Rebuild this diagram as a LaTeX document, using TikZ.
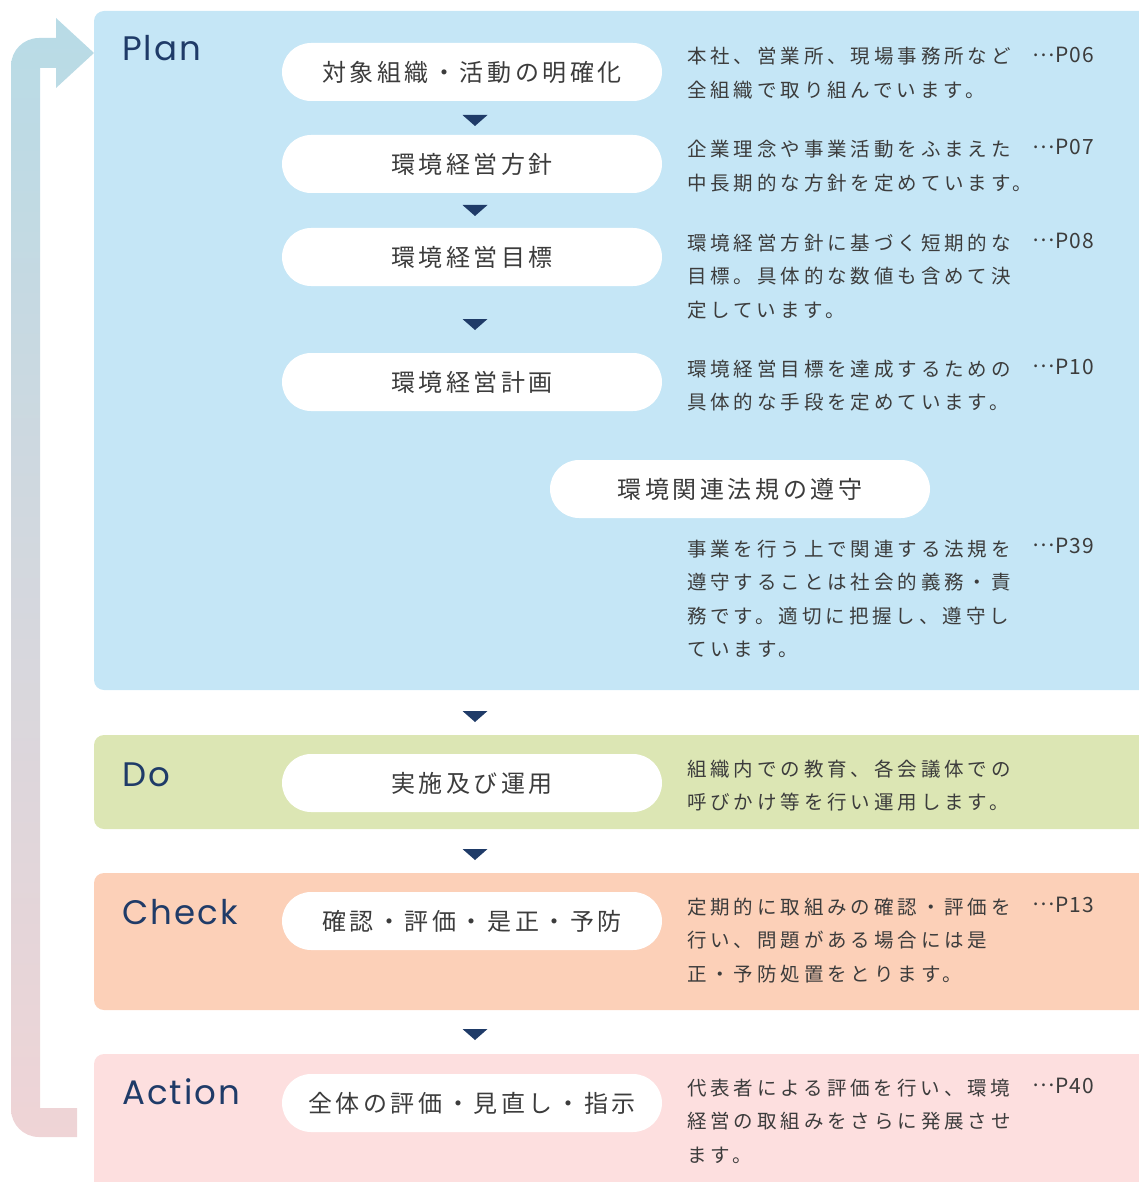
\documentclass[tikz,border=0pt]{standalone}
\usepackage{fontspec}
\newfontfamily\jpfont[LetterSpace=4]{Noto Sans CJK JP}
\newfontfamily\jpspaced[LetterSpace=15]{Noto Sans CJK JP}
\newfontfamily\jpwide[LetterSpace=20]{Noto Sans CJK JP}
\newfontfamily\headfont[LetterSpace=6]{Poppins}
\definecolor{planbg}{HTML}{C5E6F6}
\definecolor{dobg}{HTML}{DCE6B4}
\definecolor{checkbg}{HTML}{FCD0B8}
\definecolor{actbg}{HTML}{FDDFDF}
\definecolor{navy}{HTML}{1F3B68}
\definecolor{txtgray}{HTML}{3C3C3C}
\definecolor{looptop}{HTML}{B8DBE6}
\definecolor{loopbot}{HTML}{EFD4D6}
\newcommand{\pgref}[1]{\raisebox{0.3em}{…}\kern1pt #1}
\tikzset{
  pill/.style={fill=white,rounded corners=29pt,minimum width=380pt,minimum height=58pt,inner sep=0pt,
    text=txtgray,font=\jpspaced\fontsize{24}{28}\selectfont},
  desc/.style={anchor=base west,align=left,inner sep=0pt,text=txtgray,
    font=\jpwide\fontsize{19.5}{33.5}\selectfont},
  pref/.style={anchor=base west,inner sep=0pt,text=txtgray,font=\jpfont\fontsize{21}{24}\selectfont},
  stage/.style={anchor=base west,inner sep=0pt,text=navy,font=\headfont\fontsize{34}{40}\selectfont},
}
\begin{document}
\begin{tikzpicture}[x=1pt,y=-1pt,line join=bevel]
    \useasboundingbox (0,0) rectangle (1139,1182);
    \clip (0,0) rectangle (1139,1182);
    %% panels
    \fill [planbg,rounded corners=10pt] (94,11) rectangle (1170,690);
    \fill [dobg,rounded corners=10pt] (94,735) rectangle (1170,829);
    \fill [checkbg,rounded corners=10pt] (94,873) rectangle (1170,1010);
    \fill [actbg,rounded corners=10pt] (94,1054) rectangle (1170,1210);
    %% loop arrow
    \shade [top color=looptop,bottom color=loopbot] (56,38) -- (39,38)
      .. controls (23.5,38) and (11,50.5) .. (11,66) -- (11,1109)
      .. controls (11,1124.5) and (23.5,1137) .. (39,1137) -- (77,1137) -- (77,1108)
      -- (40,1108) -- (40,68) -- (56,68) -- (56,88) -- (94,53) -- (56,18) -- cycle;
    %% stage labels
    \node (plan) at (122,61) [stage] {Plan};
    \node (do) at (122,786) [stage] {Do};
    \node (check) at (122,924) [stage] {Check};
    \node (act) at (122,1104) [stage] {Action};
    %% steps
    \node (scope) at (472,72) [pill] {対象組織・活動の明確化};
    \node (policy) at (472,164) [pill] {環境経営方針};
    \node (target) at (472,257) [pill] {環境経営目標};
    \node (program) at (472,382) [pill] {環境経営計画};
    \node (law) at (740,489) [pill] {環境関連法規の遵守};
    \node (run) at (472,783) [pill] {実施及び運用};
    \node (review) at (472,921) [pill] {確認・評価・是正・予防};
    \node (mgmt) at (472,1103) [pill] {全体の評価・見直し・指示};
    \foreach \y in {119,209,323,715,853,1033}
      \fill [navy] (462.5,\y-4) -- (487.5,\y-4) -- (475,\y+7) -- cycle;
    %% descriptions (anchor is the last line's baseline)
    \node (d1) at (687,97.5) [desc] {本社、営業所、現場事務所など\\全組織で取り組んでいます。};
    \node (d2) at (687,190.5) [desc] {企業理念や事業活動をふまえた\\中長期的な方針を定めています。};
    \node (d3) at (687,317) [desc] {環境経営方針に基づく短期的な\\目標。具体的な数値も含めて決\\定しています。};
    \node (d4) at (687,409.5) [desc] {環境経営目標を達成するための\\具体的な手段を定めています。};
    \node (d5) at (687,656.5) [desc] {事業を行う上で関連する法規を\\遵守することは社会的義務・責\\務です。適切に把握し、遵守し\\ています。};
    \node (d6) at (687,809.5) [desc] {組織内での教育、各会議体での\\呼びかけ等を行い運用します。};
    \node (d7) at (687,981) [desc] {定期的に取組みの確認・評価を\\行い、問題がある場合には是\\正・予防処置をとります。};
    \node (d8) at (687,1162) [desc] {代表者による評価を行い、環境\\経営の取組みをさらに発展させ\\ます。};
    %% page refs
    \node (p1) at (1032,63) [pref] {\pgref{P06}};
    \node (p2) at (1032,155) [pref] {\pgref{P07}};
    \node (p3) at (1032,248) [pref] {\pgref{P08}};
    \node (p4) at (1032,374) [pref] {\pgref{P10}};
    \node (p5) at (1032,553) [pref] {\pgref{P39}};
    \node (p7) at (1032,912) [pref] {\pgref{P13}};
    \node (p8) at (1032,1093) [pref] {\pgref{P40}};
    %
\end{tikzpicture}
\end{document}
